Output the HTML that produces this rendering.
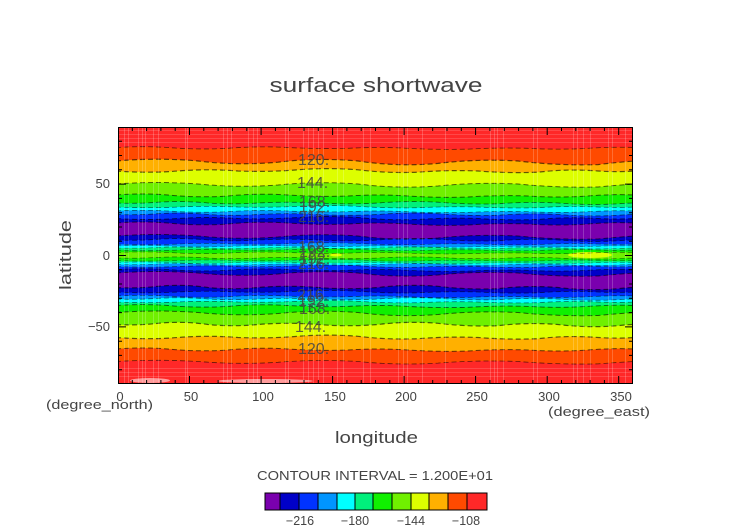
<!DOCTYPE html>
<html><head><meta charset="utf-8"><style>
html,body{margin:0;padding:0;background:#fff;width:752px;height:532px;overflow:hidden;}
svg{display:block}
text{font-family:"Liberation Sans",sans-serif;fill:#444}
</style></head><body>
<svg width="752" height="532" viewBox="0 0 752 532" xmlns="http://www.w3.org/2000/svg">
<defs>
<clipPath id="pc"><rect x="118" y="127" width="515" height="257"/></clipPath>
<path id="fA" d="M-2,0 Q25,-2 50,0 Q80,3 110,1 Q140,-2 170,0 Q200,2 230,1 Q260,-1 290,1 Q320,3 350,2 Q380,0 410,1 Q440,3 470,1 Q495,-1 517,0 V120 H-2 Z"/>
<path id="lA" d="M-2,0 Q25,-2 50,0 Q80,3 110,1 Q140,-2 170,0 Q200,2 230,1 Q260,-1 290,1 Q320,3 350,2 Q380,0 410,1 Q440,3 470,1 Q495,-1 517,0"/>
<path id="fB" d="M-2,0 Q30,2 60,0 Q90,-2 120,0 Q150,1 180,-1 Q210,-3 240,-1 Q270,2 300,1 Q330,-1 360,0 Q390,2 420,1 Q450,-2 480,0 Q500,1 517,0 V120 H-2 Z"/>
<path id="lB" d="M-2,0 Q30,2 60,0 Q90,-2 120,0 Q150,1 180,-1 Q210,-3 240,-1 Q270,2 300,1 Q330,-1 360,0 Q390,2 420,1 Q450,-2 480,0 Q500,1 517,0"/>
<path id="fC" d="M-2,0 Q40,-3 80,0 Q120,4 160,1 Q200,-3 240,0 Q280,5 320,2 Q360,-2 400,0 Q440,4 480,3 Q500,1 517,0 V120 H-2 Z"/>
<path id="lC" d="M-2,0 Q40,-3 80,0 Q120,4 160,1 Q200,-3 240,0 Q280,5 320,2 Q360,-2 400,0 Q440,4 480,3 Q500,1 517,0"/>
<path id="fD" d="M-2,0 Q20,1 40,-1 Q65,-3 90,0 Q115,2 140,0 Q170,-2 200,0 Q230,2 260,0 Q290,-3 320,-1 Q350,2 380,1 Q410,-2 440,0 Q470,3 500,1 Q510,0 517,0 V120 H-2 Z"/>
<path id="lD" d="M-2,0 Q20,1 40,-1 Q65,-3 90,0 Q115,2 140,0 Q170,-2 200,0 Q230,2 260,0 Q290,-3 320,-1 Q350,2 380,1 Q410,-2 440,0 Q470,3 500,1 Q510,0 517,0"/>
</defs>

<!-- title -->
<text x="376" y="92" font-size="20" text-anchor="middle" textLength="213" lengthAdjust="spacingAndGlyphs">surface shortwave</text>

<g clip-path="url(#pc)">
<rect x="118" y="127" width="515" height="257" fill="#ff2828"/>
<!-- north -->
<use href="#fA" transform="translate(118,147.5) scale(1,0.8)" fill="#ff4a00"/>
<use href="#fC" transform="translate(118,161) scale(1,1.2)" fill="#ffb000"/>
<use href="#fB" transform="translate(118,171) scale(1,1.2)" fill="#ddff00"/>
<use href="#fC" transform="translate(118,184) scale(1,1)" fill="#70f000"/>
<use href="#fA" transform="translate(118,195) scale(1,1)" fill="#10f000"/>
<use href="#fD" transform="translate(118,203) scale(1,0.8)" fill="#00f07c"/>
<use href="#fB" transform="translate(118,207) scale(1,0.7)" fill="#00ffff"/>
<use href="#fA" transform="translate(118,211) scale(1,0.7)" fill="#0095ff"/>
<use href="#fD" transform="translate(118,214.5) scale(1,0.8)" fill="#0033ff"/>
<use href="#fB" transform="translate(118,218.5) scale(1,1)" fill="#0000c8"/>
<use href="#fA" transform="translate(118,223) scale(1,1)" fill="#7a00ae"/>
<use href="#fC" transform="translate(118,236) scale(1,1)" fill="#0000c8"/>
<use href="#fD" transform="translate(118,240) scale(1,0.8)" fill="#0033ff"/>
<use href="#fB" transform="translate(118,244) scale(1,0.6)" fill="#0095ff"/>
<use href="#fA" transform="translate(118,246) scale(1,0.5)" fill="#00ffff"/>
<use href="#fD" transform="translate(118,248) scale(1,0.5)" fill="#00f07c"/>
<use href="#fB" transform="translate(118,250) scale(1,0.6)" fill="#10f000"/>
<use href="#fA" transform="translate(118,252.5) scale(1,0.6)" fill="#70f000"/>
<!-- south -->
<use href="#fD" transform="translate(118,258) scale(1,0.6)" fill="#10f000"/>
<use href="#fB" transform="translate(118,260.5) scale(1,0.5)" fill="#00f07c"/>
<use href="#fA" transform="translate(118,262.5) scale(1,0.5)" fill="#00ffff"/>
<use href="#fD" transform="translate(118,264.5) scale(1,0.5)" fill="#0095ff"/>
<use href="#fB" transform="translate(118,266.5) scale(1,0.7)" fill="#0033ff"/>
<use href="#fA" transform="translate(118,269.5) scale(1,0.8)" fill="#0000c8"/>
<use href="#fC" transform="translate(118,273) scale(1,1)" fill="#7a00ae"/>
<use href="#fD" transform="translate(118,287.5) scale(1,1.2)" fill="#0000c8"/>
<use href="#fB" transform="translate(118,292) scale(1,0.8)" fill="#0033ff"/>
<use href="#fA" transform="translate(118,296) scale(1,0.7)" fill="#0095ff"/>
<use href="#fD" transform="translate(118,299) scale(1,0.7)" fill="#00ffff"/>
<use href="#fB" transform="translate(118,302) scale(1,0.7)" fill="#00f07c"/>
<use href="#fA" transform="translate(118,305.5) scale(1,0.9)" fill="#10f000"/>
<use href="#fC" transform="translate(118,312.5) scale(1,1)" fill="#70f000"/>
<use href="#fD" transform="translate(118,324.5) scale(1,1.2)" fill="#ddff00"/>
<use href="#fB" transform="translate(118,337.5) scale(1,1.2)" fill="#ffb000"/>
<use href="#fA" transform="translate(118,349) scale(1,1)" fill="#ff4a00"/>
<use href="#fC" transform="translate(118,361.5) scale(1,0.8)" fill="#ff2828"/>

<!-- patches -->
<ellipse cx="590" cy="255" rx="22" ry="3" fill="#ddff00"/>
<ellipse cx="336" cy="255" rx="6" ry="1.5" fill="#ddff00"/>
<ellipse cx="150" cy="380.5" rx="20" ry="2.5" fill="#ff9c9c"/>
<ellipse cx="265" cy="381" rx="48" ry="2" fill="#ff9c9c"/>

<!-- contour lines -->
<g fill="none" stroke="#000" stroke-opacity="0.6" stroke-width="1" stroke-dasharray="5 3">
<use href="#lA" transform="translate(118,147.5) scale(1,0.8)"/>
<use href="#lC" transform="translate(118,161) scale(1,1.2)"/>
<use href="#lB" transform="translate(118,171) scale(1,1.2)"/>
<use href="#lC" transform="translate(118,184)"/>
<use href="#lA" transform="translate(118,195)"/>
<use href="#lD" transform="translate(118,203) scale(1,0.8)"/>
<use href="#lB" transform="translate(118,207) scale(1,0.7)"/>
<use href="#lA" transform="translate(118,211) scale(1,0.7)"/>
<use href="#lD" transform="translate(118,214.5) scale(1,0.8)"/>
<use href="#lB" transform="translate(118,218.5)"/>
<use href="#lA" transform="translate(118,223)"/>
<use href="#lC" transform="translate(118,236)"/>
<use href="#lD" transform="translate(118,240) scale(1,0.8)"/>
<use href="#lB" transform="translate(118,244) scale(1,0.6)"/>
<use href="#lA" transform="translate(118,246) scale(1,0.5)"/>
<use href="#lD" transform="translate(118,248) scale(1,0.5)"/>
<use href="#lB" transform="translate(118,250) scale(1,0.6)"/>
<use href="#lA" transform="translate(118,252.5) scale(1,0.6)"/>
<use href="#lD" transform="translate(118,258) scale(1,0.6)"/>
<use href="#lB" transform="translate(118,260.5) scale(1,0.5)"/>
<use href="#lA" transform="translate(118,262.5) scale(1,0.5)"/>
<use href="#lD" transform="translate(118,264.5) scale(1,0.5)"/>
<use href="#lB" transform="translate(118,266.5) scale(1,0.7)"/>
<use href="#lA" transform="translate(118,269.5) scale(1,0.8)"/>
<use href="#lC" transform="translate(118,273)"/>
<use href="#lD" transform="translate(118,287.5) scale(1,1.2)"/>
<use href="#lB" transform="translate(118,292) scale(1,0.8)"/>
<use href="#lA" transform="translate(118,296) scale(1,0.7)"/>
<use href="#lD" transform="translate(118,299) scale(1,0.7)"/>
<use href="#lB" transform="translate(118,302) scale(1,0.7)"/>
<use href="#lA" transform="translate(118,305.5) scale(1,0.9)"/>
<use href="#lC" transform="translate(118,312.5)"/>
<use href="#lD" transform="translate(118,324.5) scale(1,1.2)"/>
<use href="#lB" transform="translate(118,337.5) scale(1,1.2)"/>
<use href="#lA" transform="translate(118,349)"/>
<use href="#lC" transform="translate(118,361.5) scale(1,0.8)"/>
</g>

<!-- faint light stripes -->
<path stroke="#fff" stroke-opacity="0.2" stroke-width="1" fill="none" d="M124.5,127V384M128.5,127V384M138.5,127V384M142.5,127V384M145.5,127V384M153.5,127V384M158.5,127V384M185.5,127V384M187.5,127V384M223.5,127V384M227.5,127V384M231.5,127V384M248.5,127V384M253.5,127V384M257.5,127V384M285.5,127V384M288.5,127V384M303.5,127V384M308.5,127V384M313.5,127V384M318.5,127V384M323.5,127V384M337.5,127V384M343.5,127V384M363.5,127V384M370.5,127V384M398.5,127V384M403.5,127V384M407.5,127V384M422.5,127V384M445.5,127V384M490.5,127V384M494.5,127V384M497.5,127V384M503.5,127V384M533.5,127V384M537.5,127V384M573.5,127V384M577.5,127V384M583.5,127V384M590.5,127V384M608.5,127V384M612.5,127V384M625.5,127V384"/>
<path stroke="#fff" stroke-opacity="0.15" stroke-width="1" fill="none" d="M118,130.5H633M118,134.5H633M118,138.5H633M118,142.5H633M118,368.5H633M118,372.5H633M118,376.5H633"/>
</g>

<!-- contour labels -->
<g font-size="16" opacity="0.85">
<text x="298" y="165">120.</text>
<text x="297" y="188">144.</text>
<text x="299" y="207">168.</text>
<text x="299" y="212">192.</text>
<text x="298" y="222">216.</text>
<text x="298" y="252">168.</text>
<text x="299" y="257">192.</text>
<text x="299" y="264">192.</text>
<text x="298" y="269">216.</text>
<text x="297" y="300">216.</text>
<text x="298" y="306">192.</text>
<text x="299" y="314">168.</text>
<text x="295" y="332">144.</text>
<text x="298" y="354">120.</text>
</g>

<!-- frame & ticks -->
<rect x="118.5" y="127.5" width="514" height="256" fill="none" stroke="#000" stroke-width="1"/>
<path stroke="#000" stroke-width="1" fill="none" d="
M189.5,384v-8M261.1,384v-8M332.6,384v-8M404.1,384v-8M475.6,384v-8M547.2,384v-8M618.7,384v-8
M189.5,127v8M261.1,127v8M332.6,127v8M404.1,127v8M475.6,127v8M547.2,127v8M618.7,127v8
M132.3,384v-4M146.6,384v-4M160.9,384v-4M175.2,384v-4M203.8,384v-4M218.1,384v-4M232.4,384v-4M246.8,384v-4M275.4,384v-4M289.7,384v-4M304,384v-4M318.3,384v-4M346.9,384v-4M361.2,384v-4M375.5,384v-4M389.8,384v-4M418.4,384v-4M432.7,384v-4M447,384v-4M461.3,384v-4M489.9,384v-4M504.3,384v-4M518.6,384v-4M532.9,384v-4M561.5,384v-4M575.8,384v-4M590.1,384v-4M604.4,384v-4
M132.3,127v4M146.6,127v4M160.9,127v4M175.2,127v4M203.8,127v4M218.1,127v4M232.4,127v4M246.8,127v4M275.4,127v4M289.7,127v4M304,127v4M318.3,127v4M346.9,127v4M361.2,127v4M375.5,127v4M389.8,127v4M418.4,127v4M432.7,127v4M447,127v4M461.3,127v4M489.9,127v4M504.3,127v4M518.6,127v4M532.9,127v4M561.5,127v4M575.8,127v4M590.1,127v4M604.4,127v4
M118,184.1h8M118,255.5h8M118,326.9h8M633,184.1h-8M633,255.5h-8M633,326.9h-8
M118,141.3h4M118,155.5h4M118,169.8h4M118,198.4h4M118,212.7h4M118,227h4M118,241.2h4M118,269.8h4M118,284h4M118,298.3h4M118,312.6h4M118,341.2h4M118,355.4h4M118,369.7h4
M633,141.3h-4M633,155.5h-4M633,169.8h-4M633,198.4h-4M633,212.7h-4M633,227h-4M633,241.2h-4M633,269.8h-4M633,284h-4M633,298.3h-4M633,312.6h-4M633,341.2h-4M633,355.4h-4M633,369.7h-4"/>

<!-- tick labels -->
<g font-size="13" text-anchor="middle">
<text x="120" y="401">0</text>
<text x="191" y="401">50</text>
<text x="263" y="401">100</text>
<text x="335" y="401">150</text>
<text x="406" y="401">200</text>
<text x="477" y="401">250</text>
<text x="549" y="401">300</text>
<text x="621" y="401">350</text>
</g>
<g font-size="13" text-anchor="end">
<text x="110" y="188">50</text>
<text x="110" y="260">0</text>
<text x="110" y="331">−50</text>
</g>
<text x="46" y="409" font-size="13" textLength="107" lengthAdjust="spacingAndGlyphs">(degree_north)</text>
<text x="548" y="416" font-size="13" textLength="102" lengthAdjust="spacingAndGlyphs">(degree_east)</text>

<text x="335" y="443" font-size="17" textLength="83" lengthAdjust="spacingAndGlyphs">longitude</text>
<text transform="translate(71,290) rotate(-90)" font-size="17" textLength="70" lengthAdjust="spacingAndGlyphs">latitude</text>

<text x="257" y="480" font-size="12.5" textLength="236" lengthAdjust="spacingAndGlyphs">CONTOUR INTERVAL = 1.200E+01</text>

<!-- colorbar -->
<g stroke="#000" stroke-width="1">
<rect x="265" y="493" width="15" height="17" fill="#7a00ae"/>
<rect x="280" y="493" width="19" height="17" fill="#0000c8"/>
<rect x="299" y="493" width="19" height="17" fill="#0033ff"/>
<rect x="318" y="493" width="19" height="17" fill="#0095ff"/>
<rect x="337" y="493" width="18" height="17" fill="#00ffff"/>
<rect x="355" y="493" width="18" height="17" fill="#00f07c"/>
<rect x="373" y="493" width="19" height="17" fill="#10f000"/>
<rect x="392" y="493" width="19" height="17" fill="#70f000"/>
<rect x="411" y="493" width="18" height="17" fill="#ddff00"/>
<rect x="429" y="493" width="19" height="17" fill="#ffb000"/>
<rect x="448" y="493" width="19" height="17" fill="#ff4a00"/>
<rect x="467" y="493" width="20" height="17" fill="#ff2828"/>
</g>
<g font-size="12.5" text-anchor="middle">
<text x="300" y="525">−216</text>
<text x="355" y="525">−180</text>
<text x="411" y="525">−144</text>
<text x="466" y="525">−108</text>
</g>
</svg>
</body></html>
